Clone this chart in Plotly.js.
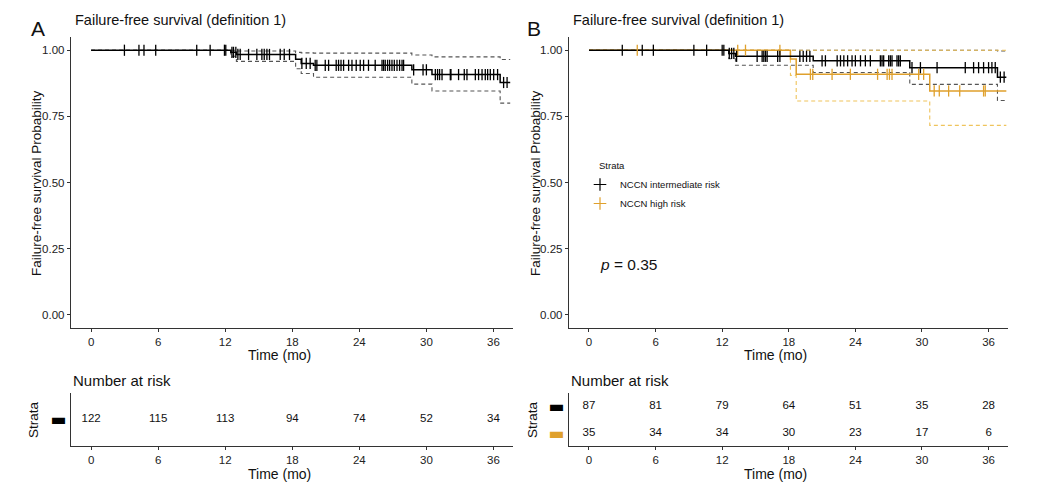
<!DOCTYPE html>
<html>
<head>
<meta charset="utf-8">
<script src="https://cdn.plot.ly/plotly-3.0.1.min.js"></script>
<style>html,body{margin:0;padding:0;background:#fff;}#chart{width:1046px;height:494px;}</style>
</head>
<body>
<div id="chart"></div>
<script>
// ---------- data ----------
const riskMonths = [0, 6, 12, 18, 24, 30, 36];
const riskAll = [122, 115, 113, 94, 74, 52, 34];
const riskIntermediate = [87, 81, 79, 64, 51, 35, 28];
const riskHigh = [35, 34, 34, 30, 23, 17, 6];

// Panel A: overall Kaplan-Meier
const timeA  = [0, 12.5, 13.0, 18.3, 18.8, 19.9, 28.7, 30.5, 36.6, 37.5];
const survA  = [1, 0.992, 0.984, 0.966, 0.950, 0.943, 0.926, 0.908, 0.878, 0.878];
const upperA = [1, 1, 0.997, 0.992, 0.990, 0.989, 0.982, 0.975, 0.965, 0.965];
const lowerA = [1, 0.977, 0.958, 0.930, 0.912, 0.898, 0.872, 0.846, 0.800, 0.800];
const censorA = [2.98, 4.28, 4.73, 5.78, 9.45, 10.65, 11.93, 12.05, 12.6, 12.74, 12.95, 13.13, 13.34,
  14.09, 14.83, 15.28, 15.49, 15.73, 15.96, 16.92, 17.28, 17.75, 18.86, 19.25, 19.6, 20.05, 20.2,
  20.95, 21.25, 21.93, 22.14, 22.36, 22.59, 23.04, 23.34, 23.72, 24.08, 24.38, 24.82, 25.42, 26.03,
  26.17, 26.32, 26.53, 26.71, 26.92, 27.13, 27.37, 27.6, 27.82, 27.96, 28.86, 29.7, 30.0, 30.8, 31.0,
  31.18, 31.4, 32.14, 32.2, 32.88, 33.39, 33.63, 34.38, 34.67, 34.98, 35.27, 35.48, 35.72, 36.02,
  36.37, 36.91, 37.22];

// Panel B: NCCN intermediate risk
const timeBI  = [0, 12.6, 13.2, 20.2, 28.9, 36.8, 37.6];
const survBI  = [1, 0.988, 0.977, 0.960, 0.934, 0.898, 0.898];
const upperBI = [1, 1, 1, 1, 1, 0.997, 0.997];
const lowerBI = [1, 0.968, 0.943, 0.916, 0.871, 0.810, 0.810];
const censorBI = [3.0, 4.8, 5.8, 9.45, 10.6, 12.0, 12.15, 12.64, 12.85, 13.05, 13.3, 15.15, 15.6,
  15.75, 15.9, 16.05, 17.0, 17.2, 19.0, 19.3, 19.6, 19.9, 21.0, 21.3, 22.36, 22.66, 22.96, 23.3,
  23.7, 24.0, 24.46, 24.9, 25.35, 26.25, 26.4, 26.55, 27.0, 27.15, 27.3, 27.75, 27.9, 28.05, 29.1,
  29.86, 31.36, 33.9, 34.65, 35.1, 35.55, 36.0, 36.3, 36.6, 37.06, 37.4];

// Panel B: NCCN high risk
const timeBH  = [0, 18.15, 18.67, 30.7, 37.6];
const survBH  = [1, 0.967, 0.909, 0.846, 0.846];
const upperBH = [1, 1, 1, 1, 1];
const lowerBH = [1, 0.905, 0.808, 0.716, 0.716];
const censorBH = [4.35, 13.4, 14.1, 17.2, 19.95, 20.16, 21.9, 23.55, 26.0, 26.86, 27.07, 27.3,
  29.7, 30.15, 31.1, 31.56, 32.4, 33.4, 35.55, 35.7];

const strataNames = ['NCCN intermediate risk', 'NCCN high risk'];
const pValueText = '<i>p</i> = 0.35';
const xTicks = [0, 6, 12, 18, 24, 30, 36];
const yTicks = [0, 0.25, 0.5, 0.75, 1];

// ---------- styles ----------
const BLACK = '#000000';
const ORANGE = '#DFA02C';
const CI_BLACK = '#555555';
const CI_ORANGE = '#EFC45C';
const FONT = 'Liberation Sans, Arial, sans-serif';
const W = 1046, H = 494;
const px = v => v / W;
const py = v => 1 - v / H;

function stepAt(times, vals, t) {
  let v = vals[0];
  for (let i = 0; i < times.length; i++) { if (times[i] <= t) v = vals[i]; }
  return v;
}
function line(x, y, xa, ya, color, width, dash) {
  return {x: x, y: y, xaxis: xa, yaxis: ya, type: 'scatter', mode: 'lines',
    line: {shape: 'hv', color: color, width: width, dash: dash || 'solid'},
    showlegend: false, hoverinfo: 'skip'};
}
function censors(ct, times, vals, xa, ya, color) {
  return {x: ct, y: ct.map(t => stepAt(times, vals, t)), xaxis: xa, yaxis: ya,
    type: 'scatter', mode: 'markers', cliponaxis: false,
    marker: {symbol: 'line-ns-open', size: 8, color: color, line: {color: color, width: 1.3}},
    showlegend: false, hoverinfo: 'skip'};
}
const CIDASH = '4px,3px';
const traces = [
  // A
  line(timeA, upperA, 'x', 'y', CI_BLACK, 1.1, CIDASH),
  line(timeA, lowerA, 'x', 'y', CI_BLACK, 1.1, CIDASH),
  line(timeA, survA, 'x', 'y', BLACK, 1.5),
  censors(censorA, timeA, survA, 'x', 'y', BLACK),
  // B
  line(timeBI, upperBI, 'x2', 'y2', CI_BLACK, 1.1, CIDASH),
  line(timeBI, lowerBI, 'x2', 'y2', CI_BLACK, 1.1, CIDASH),
  line(timeBH, upperBH, 'x2', 'y2', CI_ORANGE, 1.1, CIDASH),
  line(timeBH, lowerBH, 'x2', 'y2', CI_ORANGE, 1.1, CIDASH),
  line(timeBH, survBH, 'x2', 'y2', ORANGE, 1.5),
  line(timeBI, survBI, 'x2', 'y2', BLACK, 1.5),
  censors(censorBH, timeBH, survBH, 'x2', 'y2', ORANGE),
  censors(censorBI, timeBI, survBI, 'x2', 'y2', BLACK),
  // legend entries
  {x: [null], y: [null], xaxis: 'x2', yaxis: 'y2', type: 'scatter', mode: 'markers', name: strataNames[0],
    marker: {symbol: 'cross-thin-open', size: 9, color: BLACK, line: {color: BLACK, width: 1.2}}, showlegend: true},
  {x: [null], y: [null], xaxis: 'x2', yaxis: 'y2', type: 'scatter', mode: 'markers', name: strataNames[1],
    marker: {symbol: 'cross-thin-open', size: 9, color: ORANGE, line: {color: ORANGE, width: 1.2}}, showlegend: true},
  // risk tables
  {x: riskMonths, y: riskMonths.map(() => 1), xaxis: 'x3', yaxis: 'y3', type: 'scatter', mode: 'text',
    text: riskAll.map(String), textfont: {family: FONT, size: 11.5, color: '#111'}, cliponaxis: false,
    showlegend: false, hoverinfo: 'skip'},
  {x: riskMonths, y: riskMonths.map(() => 2), xaxis: 'x4', yaxis: 'y4', type: 'scatter', mode: 'text',
    text: riskIntermediate.map(String), textfont: {family: FONT, size: 11.5, color: '#111'}, cliponaxis: false,
    showlegend: false, hoverinfo: 'skip'},
  {x: riskMonths, y: riskMonths.map(() => 1), xaxis: 'x4', yaxis: 'y4', type: 'scatter', mode: 'text',
    text: riskHigh.map(String), textfont: {family: FONT, size: 11.5, color: '#111'}, cliponaxis: false,
    showlegend: false, hoverinfo: 'skip'}
];

const XR = [-1.8, 37.75];
const baseX = {range: XR, tickvals: xTicks, ticktext: xTicks.map(String), showgrid: false, zeroline: false,
  showline: true, linecolor: '#333', linewidth: 1.2, ticks: 'outside', ticklen: 3, tickcolor: '#333',
  tickfont: {family: FONT, size: 11.5, color: '#222'}, fixedrange: true};
const baseY = {range: [-0.05, 1.05], tickvals: yTicks, ticktext: yTicks.map(v => v.toFixed(2)), showgrid: false,
  zeroline: false, showline: true, linecolor: '#333', linewidth: 1.2, ticks: 'outside', ticklen: 3,
  tickcolor: '#333', tickfont: {family: FONT, size: 11.5, color: '#222'}, fixedrange: true};
const bar = c => '<span style="color:' + c + '">\u25AC</span>';

const domA = [px(71), px(513)], domB = [px(569), px(1008)];
const domTop = [py(328), py(37)], domTab = [py(446), py(393)];

const layout = {
  width: W, height: H, margin: {l: 0, r: 0, t: 0, b: 0},
  paper_bgcolor: '#fff', plot_bgcolor: 'rgba(0,0,0,0)',
  font: {family: FONT, color: '#111'},
  xaxis:  Object.assign({}, baseX, {domain: domA, anchor: 'y'}),
  yaxis:  Object.assign({}, baseY, {domain: domTop, anchor: 'x'}),
  xaxis2: Object.assign({}, baseX, {domain: domB, anchor: 'y2'}),
  yaxis2: Object.assign({}, baseY, {domain: domTop, anchor: 'x2'}),
  xaxis3: Object.assign({}, baseX, {domain: domA, anchor: 'y3'}),
  yaxis3: {domain: domTab, anchor: 'x3', range: [0.5, 1.5], tickvals: [1], ticktext: [bar(BLACK)],
    showline: true, linecolor: '#333', linewidth: 1.2, ticks: '', showgrid: false, zeroline: false,
    tickfont: {family: 'DejaVu Sans', size: 17}, fixedrange: true},
  xaxis4: Object.assign({}, baseX, {domain: domB, anchor: 'y4'}),
  yaxis4: {domain: domTab, anchor: 'x4', range: [0.5, 2.5], tickvals: [1, 2], ticktext: [bar(ORANGE), bar(BLACK)],
    showline: true, linecolor: '#333', linewidth: 1.2, ticks: '', showgrid: false, zeroline: false,
    tickfont: {family: 'DejaVu Sans', size: 17}, fixedrange: true},
  showlegend: true,
  legend: {x: px(580), y: py(170), xanchor: 'left', yanchor: 'top', bgcolor: 'rgba(0,0,0,0)',
    font: {family: FONT, size: 9.5, color: '#111'}, tracegroupgap: 0, itemclick: false},
  annotations: [
    {text: 'A', x: px(38), y: py(29), font: {size: 21}},
    {text: 'B', x: px(534), y: py(29), font: {size: 21}},
    {text: 'Failure-free survival (definition 1)', x: px(73), y: py(20), xanchor: 'left', font: {size: 14.5}},
    {text: 'Failure-free survival (definition 1)', x: px(571), y: py(20), xanchor: 'left', font: {size: 14.5}},
    {text: 'Failure-free survival Probability', x: px(36), y: py(183), textangle: -90, font: {size: 13.5}},
    {text: 'Failure-free survival Probability', x: px(535), y: py(183), textangle: -90, font: {size: 13.5}},
    {text: 'Time (mo)', x: px(279), y: py(355), font: {size: 14}},
    {text: 'Time (mo)', x: px(775), y: py(355), font: {size: 14}},
    {text: 'Number at risk', x: px(71), y: py(380), xanchor: 'left', font: {size: 15}},
    {text: 'Number at risk', x: px(569), y: py(380), xanchor: 'left', font: {size: 15}},
    {text: 'Strata', x: px(33), y: py(420), textangle: -90, font: {size: 13.5}},
    {text: 'Strata', x: px(532), y: py(420), textangle: -90, font: {size: 13.5}},
    {text: 'Time (mo)', x: px(279), y: py(474), font: {size: 14}},
    {text: 'Time (mo)', x: px(775), y: py(474), font: {size: 14}},
    {text: 'Strata', x: px(597), y: py(165), xanchor: 'left', font: {size: 9.5}},
    {text: pValueText, x: px(598), y: py(264), xanchor: 'left', font: {size: 15.5}}
  ].map(a => Object.assign({xref: 'paper', yref: 'paper', showarrow: false, xanchor: 'center', yanchor: 'middle'}, a,
    {font: Object.assign({family: FONT, color: '#111'}, a.font)}))
};

Plotly.newPlot('chart', traces, layout, {staticPlot: true, displayModeBar: false});
</script>
</body>
</html>
